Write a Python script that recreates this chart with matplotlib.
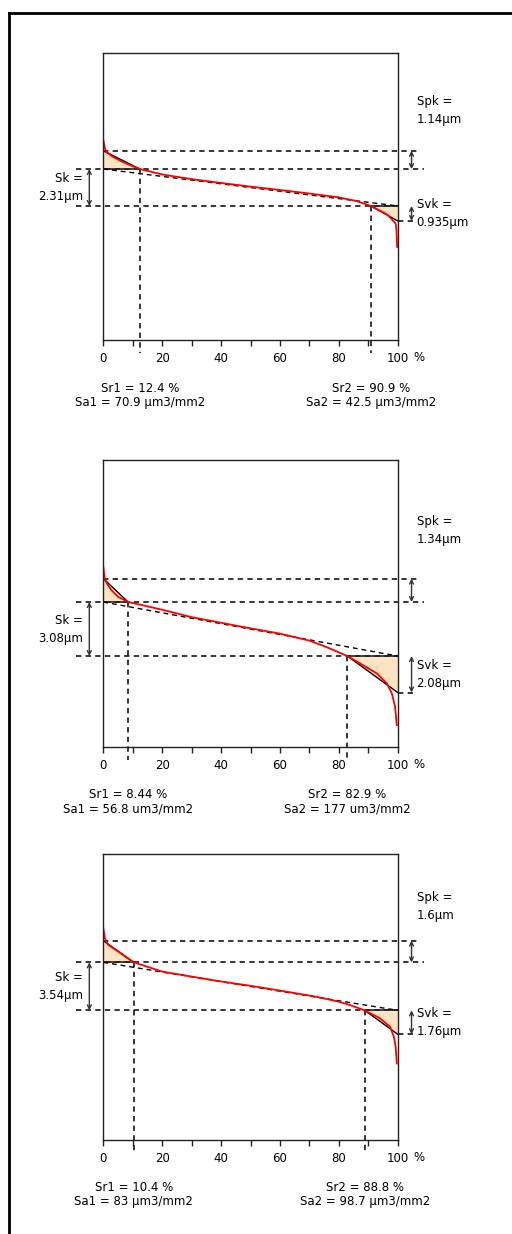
import matplotlib.pyplot as plt
from matplotlib.lines import Line2D

# material ratio curve parameters, one entry per panel
sk = [2.31, 3.08, 3.54]
spk = [1.14, 1.34, 1.6]
svk = [0.935, 2.08, 1.76]
sr1 = [12.4, 8.44, 10.4]
sr2 = [90.9, 82.9, 88.8]
sa1 = ['70.9 µm3/mm2', '56.8 um3/mm2', '83 µm3/mm2']
sa2 = ['42.5 µm3/mm2', '177 um3/mm2', '98.7 µm3/mm2']

# bearing curves (% , µm above core bottom)
curve1_x = [0, 0.5, 1, 3, 6, 9, 12.4, 20, 30, 40, 50, 60, 70, 80, 86, 90.9, 94, 96.6, 98.5, 99.3, 99.6, 99.8]
curve1_y = [4.13, 3.63, 3.4, 3.1, 2.81, 2.56, 2.31, 1.97, 1.68, 1.44, 1.21, 1.0, 0.78, 0.54, 0.31, 0.0,
            -0.29, -0.56, -0.94, -1.1, -1.5, -2.56]
curve2_x = [0, 0.5, 2.7, 5, 8.44, 12, 20, 30, 40, 50, 60, 70, 76, 82.9, 87.2, 92.9, 96.3, 98, 99.1, 99.7]
curve2_y = [5.09, 4.34, 3.77, 3.38, 3.08, 2.95, 2.64, 2.22, 1.9, 1.58, 1.28, 0.88, 0.5, 0.0,
            -0.42, -0.99, -1.56, -2.13, -2.89, -3.94]
curve3_x = [0, 0.5, 1.6, 5, 7.8, 10.4, 20, 30, 40, 49.8, 60, 72.5, 80, 83.8, 88.8, 94, 97.4, 98.7, 99.3, 99.7]
curve3_y = [6.07, 5.33, 4.84, 4.35, 3.91, 3.54, 2.86, 2.49, 2.13, 1.82, 1.46, 1.0, 0.64, 0.39, 0.0,
            -0.59, -1.21, -1.95, -2.68, -3.91]
curves = [(curve1_x, curve1_y), (curve2_x, curve2_y), (curve3_x, curve3_y)]

xticks = list(range(0, 101, 10))
xticklabels = ['0', '', '20', '', '40', '', '60', '', '80', '', '100']

# layout (pixels of the 512x1234 picture)
W, H = 512, 1234
axes_px = [(53, 340), (460, 746.7), (854, 1140)]
ylims = [(-8.375, 9.56), (-5.17, 11.18), (-9.56, 11.53)]
spk_label_y = [0.80, 0.754, 0.815]

plt.rcParams['font.family'] = 'DejaVu Sans'
plt.rcParams['font.size'] = 8.5

fig = plt.figure(figsize=(W / 100, H / 100), dpi=100)
fig.add_artist(Line2D([8.7 / W, 8.7 / W], [0, 1 - 13 / H], color='k', lw=2, transform=fig.transFigure))
fig.add_artist(Line2D([8.7 / W, 1], [1 - 13 / H, 1 - 13 / H], color='k', lw=2, transform=fig.transFigure))

ds = (0, (3.5, 2.8))
peach = '#FFE4C4'
dark = '#222222'

for i in range(3):
    top, bot = axes_px[i]
    ax = fig.add_axes([103.3 / W, 1 - bot / H, 294.4 / W, (bot - top) / H])
    ylo, yhi = ylims[i]
    ax.set_xlim(0, 100)
    ax.set_ylim(ylo, yhi)
    pxu = (bot - top) / (yhi - ylo)
    k, pk, vk, r1, r2 = sk[i], spk[i], svk[i], sr1[i], sr2[i]

    # dashed guide lines
    ax.plot([-9.3, 108.9], [k, k], ls=ds, color='k', lw=1.1, clip_on=False)
    ax.plot([-9.3, 101.5], [0, 0], ls=ds, color='k', lw=1.1, clip_on=False)
    ax.plot([0, 107.6], [k + pk, k + pk], ls=ds, color='k', lw=1.1, clip_on=False)
    ax.plot([100, 106], [-vk, -vk], ls=ds, color='k', lw=1.1, clip_on=False)
    ax.plot([r1, r1], [k, ylo - 13 / pxu], ls=ds, color='k', lw=1.1, clip_on=False)
    ax.plot([r2, r2], [0, ylo - 13 / pxu], ls=ds, color='k', lw=1.1, clip_on=False)

    # peak and valley triangles
    ax.fill([0, 0, r1], [k, k + pk, k], color=peach, lw=0)
    ax.fill([r2, 100, 100], [0, 0, -vk], color=peach, lw=0)
    ax.plot([0, r1], [k, k], color=dark, lw=1.2)
    ax.plot([r2, 100], [0, 0], color=dark, lw=1.2)
    ax.plot([0, r1], [k + pk, k], color='k', lw=1)
    ax.plot([r2, 100], [0, -vk], color='k', lw=1)

    # equivalent straight line
    ax.plot([0, 100], [k, 0], ls=ds, color='k', lw=1)

    cx, cy = curves[i]
    ax.plot(cx, cy, color='red', lw=1.3)

    arw = dict(arrowstyle='<->', color='#333333', lw=1, shrinkA=0, shrinkB=0, mutation_scale=7)
    ax.annotate('', xy=(-4.75, 0), xytext=(-4.75, k), arrowprops=arw, annotation_clip=False)
    ax.annotate('', xy=(104.7, k), xytext=(104.7, k + pk), arrowprops=arw, annotation_clip=False)
    ax.annotate('', xy=(104.7, -vk), xytext=(104.7, 0), arrowprops=arw, annotation_clip=False)

    ax.text(-6.9, k / 2, f'Sk =\n{k}µm', ha='right', va='center', multialignment='right',
            linespacing=1.5, clip_on=False)
    ax.text(106.4, -vk / 2, f'Svk =\n{vk}µm', ha='left', va='center', linespacing=1.5, clip_on=False)
    ax.text(106.6, spk_label_y[i], f'Spk =\n{pk}µm', ha='left', va='center', linespacing=1.5,
            transform=ax.get_xaxis_transform())

    ax.text(r1, -0.192, f'Sr1 = {r1} %\nSa1 = {sa1[i]}', ha='center', va='center', linespacing=1.1,
            transform=ax.get_xaxis_transform())
    ax.text(r2, -0.192, f'Sr2 = {r2} %\nSa2 = {sa2[i]}', ha='center', va='center', linespacing=1.1,
            transform=ax.get_xaxis_transform())
    ax.text(107.2, -0.0617, '%', ha='center', va='center', transform=ax.get_xaxis_transform())

    ax.set_xticks(xticks)
    ax.set_xticklabels(xticklabels)
    ax.set_yticks([])
    ax.tick_params(axis='x', direction='out', length=4.5, width=1, pad=4, colors=dark, labelcolor='k')
    for s in ax.spines.values():
        s.set_color(dark)
        s.set_linewidth(1)

fig.savefig('out.png', dpi=100)
